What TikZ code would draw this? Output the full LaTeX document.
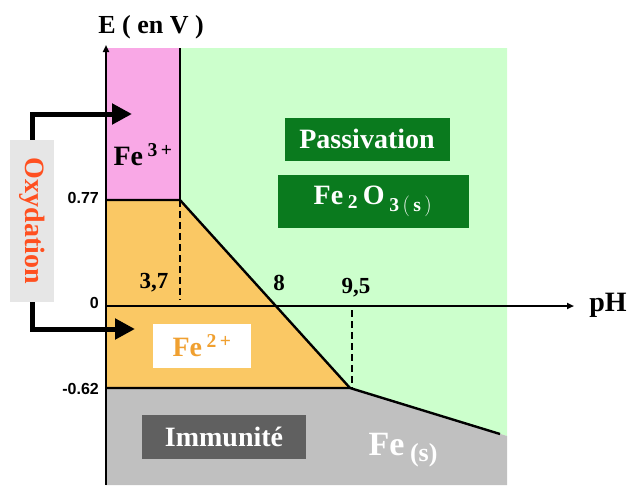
\documentclass[tikz,border=0pt]{standalone}
\usepackage{fontspec}
\setmainfont{Liberation Serif}
\newfontfamily\sansf{Liberation Sans}
\usetikzlibrary{arrows.meta}
\definecolor{pinkc}{HTML}{F9A8E6}
\definecolor{greenc}{HTML}{CCFFCC}
\definecolor{orangec}{HTML}{FAC864}
\definecolor{grayc}{HTML}{C0C0C0}
\definecolor{dgreen}{HTML}{0A7A1E}
\definecolor{dgray}{HTML}{606060}
\definecolor{oxbg}{HTML}{E6E6E6}
\definecolor{oxred}{HTML}{FF5020}
\definecolor{fetext}{HTML}{F0A030}
\tikzset{
  bound/.style={line width=2.4pt},
  axisline/.style={line width=2pt,-{Triangle[length=7pt,width=6pt]}},
  dashline/.style={line width=1.8pt,dash pattern=on 7pt off 4pt},
  oxarrow/.style={line width=5pt,-{Triangle[length=20pt,width=20pt]}},
  lab/.style={font=\bfseries\fontsize{28}{30}\selectfont,inner sep=0pt},
  num/.style={font=\bfseries\fontsize{23}{25}\selectfont,inner sep=0pt},
  tick/.style={font=\sansf\bfseries\fontsize{16}{18}\selectfont,inner sep=0pt},
  greenbox/.style={fill=dgreen,text=white,font=\bfseries\fontsize{28}{30}\selectfont,inner sep=0pt},
}
\begin{document}
\begin{tikzpicture}[x=1pt,y=-1pt]
\useasboundingbox (0,0) rectangle (628,485);
% regions
\fill[pinkc] (106,48) rectangle (180,200);
\fill[greenc] (180,48) -- (507,48) -- (507,436) -- (350,388) -- (180,200) -- cycle;
\fill[orangec] (106,200) -- (180,200) -- (350,388) -- (106,388) -- cycle;
\fill[grayc] (106,388) -- (350,388) -- (507,436) -- (507,485) -- (106,485) -- cycle;
% boundaries
\coordinate (a) at (180,48);
\coordinate (b) at (180,200);
\coordinate (c) at (106,200);
\coordinate (d) at (350,388);
\coordinate (e) at (106,388);
\coordinate (f) at (500,434);
\draw[bound] (a) -- (b);
\draw[bound] (c) -- (b) -- (d);
\draw[bound] (e) -- (d) -- (f);
\coordinate (g) at (180,300);
\coordinate (h) at (352,310);
\coordinate (i) at (352,388);
\draw[dashline] (b) -- (g);
\draw[dashline] (h) -- (i);
% axes
\coordinate (o) at (106,485);
\coordinate (ytip) at (106,45);
\coordinate (x0) at (106,306);
\coordinate (xtip) at (574,306);
\draw[axisline] (o) -- (ytip);
\draw[axisline] (x0) -- (xtip);
\node[lab,font=\bfseries\fontsize{26}{28}\selectfont] (ylab) at (151,27) {E ( en V )};
\node[lab] (xlab) at (608,305) {pH};
% ticks
\node[tick,anchor=east] (t077) at (99,198) {0.77};
\node[tick,anchor=east] (t0) at (99,303) {0};
\node[tick,anchor=east] (t062) at (99,389) {-0.62};
\node[num] (p37) at (154,283) {3,7};
\node[num] (p8) at (279,283) {8};
\node[num] (p95) at (356,288) {9,5};
% species
\node[lab] (fe3) at (143,155) {Fe\,\textsuperscript{3\,+}};
\node[greenbox,minimum width=165pt,minimum height=43pt] (pass) at (367,139) {Passivation};
\node[greenbox,minimum width=191pt,minimum height=53pt] (fe2o3) at (373,201) {Fe\,$_{\mathbf{2}}$\,O\,$_{\mathbf{3\,(\,s\,)}}$};
\node[lab,fill=white,text=fetext,minimum width=98pt,minimum height=44pt] (fe2) at (202,346) {Fe\,\textsuperscript{2\,+}};
\node[lab,fill=dgray,text=white,minimum width=164pt,minimum height=44pt] (imm) at (224,437) {Immunité};
\node[lab,text=white,font=\bfseries\fontsize{34}{36}\selectfont] (fes) at (403,450) {Fe\,\raisebox{-6pt}{\fontsize{26}{28}\selectfont(s)}};
% oxydation
\node[lab,fill=oxbg,text=oxred,rotate=-90,minimum width=162pt,minimum height=44pt] (oxy) at (32,221) {Oxydation};
\coordinate (tip1) at (132,114);
\coordinate (tip2) at (135,329);
\draw[oxarrow] (oxy.west) |- (tip1);
\draw[oxarrow] (oxy.east) |- (tip2);
\end{tikzpicture}
\end{document}
